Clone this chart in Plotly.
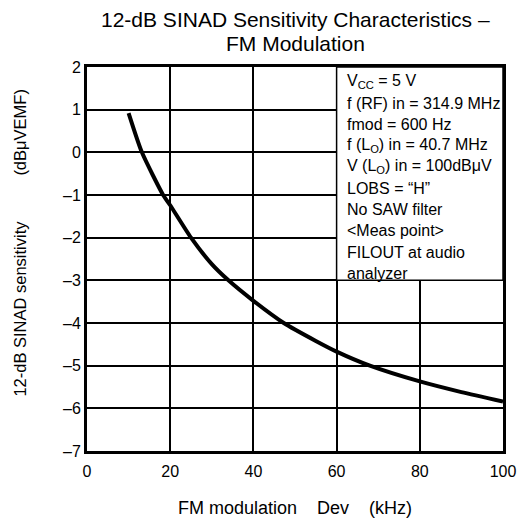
import plotly.graph_objects as go

# Curve data
dev_khz = [10, 13.2, 18.3, 20, 25, 30, 34, 40, 47.3, 55, 60, 68, 80, 90, 100]
sinad_db = [0.92, 0, -1, -1.24, -2, -2.62, -3, -3.48, -4, -4.42, -4.67, -5, -5.37, -5.62, -5.84]

x_ticks = [0, 20, 40, 60, 80, 100]
x_tick_labels = ["0", "20", "40", "60", "80", "100"]
y_ticks = [2, 1, 0, -1, -2, -3, -4, -5, -6, -7]
y_tick_labels = ["2", "1", "0", "–1", "–2", "–3", "–4", "–5", "–6", "–7"]

title_lines = ["12-dB SINAD Sensitivity Characteristics –", "FM Modulation"]
x_title = "FM modulation\u00a0\u00a0\u00a0\u00a0Dev\u00a0\u00a0\u00a0\u00a0(kHz)"
y_title = "12-dB SINAD sensitivity" + "\u00a0" * 10 + "(dBμVEMF)"

cond_lines = [
    "V<sub>CC</sub> = 5 V",
    "f (RF) in = 314.9 MHz",
    "fmod = 600 Hz",
    "f (L<sub>O</sub>) in = 40.7 MHz",
    "V (L<sub>O</sub>) in = 100dBμV",
    "LOBS = “H”",
    "No SAW filter",
    "&lt;Meas point&gt;",
    "FILOUT at audio",
    "analyzer",
]
box_x = [60, 100]
box_y = [-3, 2]

FONT = "Liberation Sans, Arial, sans-serif"

PLOT_TOP = 67
PLOT_H = 384


def py(pix):
    """paper y from a pixel row of the page"""
    return 1 - (pix - PLOT_TOP) / PLOT_H


fig = go.Figure()
fig.add_trace(go.Scatter(
    x=dev_khz, y=sinad_db, mode="lines",
    line=dict(color="black", width=4, shape="spline", smoothing=0.6),
    hoverinfo="skip", showlegend=False,
))

fig.add_shape(type="rect", xref="x", yref="y",
              x0=box_x[0], x1=box_x[1], y0=box_y[0], y1=box_y[1],
              fillcolor="white", line=dict(color="black", width=1.5), layer="above")

for i, t in enumerate(cond_lines):
    fig.add_annotation(
        x=62, xref="x", y=py(81.7 + i * 21.3), yref="paper",
        text=t, showarrow=False, xanchor="left", yanchor="middle",
        font=dict(family=FONT, size=16, color="black"),
    )

for i, t in enumerate(title_lines):
    fig.add_annotation(
        x=0.5, xref="paper", y=py(19 + i * 24), yref="paper",
        text=t, showarrow=False, xanchor="center", yanchor="middle",
        font=dict(family=FONT, size=21, color="black"),
    )

fig.add_annotation(
    x=0.5, xref="paper", y=py(508), yref="paper",
    text=x_title, showarrow=False, xanchor="center", yanchor="middle",
    font=dict(family=FONT, size=18, color="black"),
)
fig.add_annotation(
    x=-0.162, xref="paper", y=py(243), yref="paper",
    text=y_title, textangle=-90, showarrow=False,
    xanchor="center", yanchor="middle",
    font=dict(family=FONT, size=16.5, color="black"),
)

fig.update_layout(
    width=528, height=522,
    margin=dict(l=87, r=15, t=67, b=71),
    paper_bgcolor="white", plot_bgcolor="white",
    font=dict(family=FONT, size=16, color="black"),
)

fig.update_xaxes(
    range=[0, 100], tickvals=x_ticks, ticktext=x_tick_labels,
    showgrid=True, gridcolor="black", gridwidth=1.5,
    showline=True, linecolor="black", linewidth=3, mirror=True,
    ticks="", zeroline=False, tickfont=dict(size=16), ticklabelstandoff=4,
)
fig.update_yaxes(
    range=[-7, 2], tickvals=y_ticks, ticktext=y_tick_labels,
    showgrid=True, gridcolor="black", gridwidth=1.5,
    showline=True, linecolor="black", linewidth=3, mirror=True,
    ticks="", zeroline=False, tickfont=dict(size=16),
)

fig.write_html(
    "out.html",
    config={"displayModeBar": False},
    post_script="document.body.style.margin='0';document.body.style.padding='0';",
)
